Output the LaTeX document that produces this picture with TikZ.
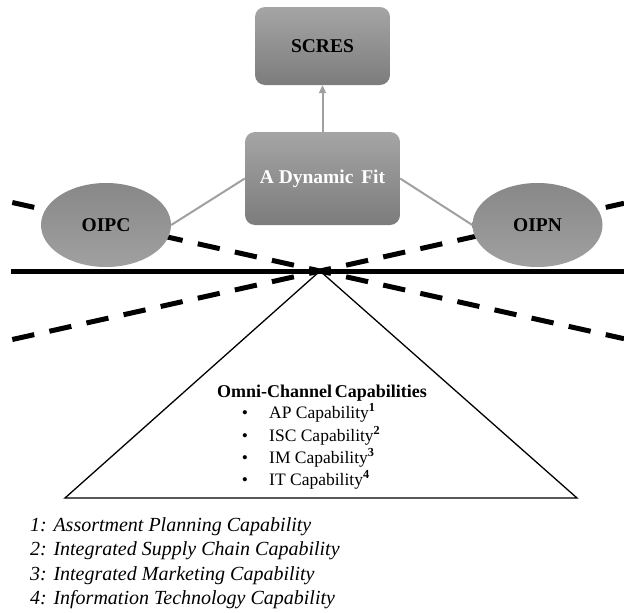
\documentclass[tikz,border=0pt]{standalone}
\usepackage{fontspec}
\setmainfont{Liberation Serif}
\usetikzlibrary{shapes.geometric,arrows.meta}
\definecolor{boxtop}{RGB}{165,165,165}
\definecolor{boxbot}{RGB}{124,124,124}
\definecolor{elltop}{RGB}{136,136,136}
\definecolor{ellbot}{RGB}{160,160,160}
\definecolor{connc}{RGB}{160,160,160}
\pgfdeclarelayer{background}
\pgfsetlayers{background,main}
\begin{document}
\begin{tikzpicture}[x=1pt,y=-1pt,
  gbox/.style={rectangle, rounded corners=10pt, top color=boxtop, bottom color=boxbot,
    draw=none, inner sep=0pt, font=\fontsize{19.5}{23}\selectfont\bfseries},
  goval/.style={ellipse, top color=elltop, bottom color=ellbot, draw=none,
    minimum width=130pt, minimum height=84pt, inner sep=0pt,
    font=\fontsize{19.5}{23}\selectfont\bfseries},
  dline/.style={line width=5pt, dash pattern=on 22.5pt off 15.5pt, dash phase=11.25pt},
  connl/.style={draw=connc, line width=2pt},
  capline/.style={anchor=base west, inner sep=0pt, font=\fontsize{17.5}{21}\selectfont},
  bul/.style={anchor=base, inner sep=0pt, font=\fontsize{17.5}{21}\selectfont},
  foot/.style={anchor=base west, inner sep=0pt, font=\fontsize{20}{24}\selectfont\itshape}]
\useasboundingbox (0,0) rectangle (624,613);

% nodes
\node[gbox, minimum width=135pt, minimum height=78pt] (scres) at (322.5,46) {SCRES};
\node[gbox, minimum width=155pt, minimum height=93pt, text=white] (fit) at (322.5,178.5) {A Dynamic\hspace{0.4em}Fit};
\node[goval] (oipc) at (106,225) {OIPC};
\node[goval] (oipn) at (537.5,225) {OIPN};

% geometry
\coordinate (X) at (320,271);
\coordinate (hl) at (11,271);
\coordinate (hr) at (624,271);
\coordinate (dul) at (11,202.2);
\coordinate (ddr) at (624,338.7);
\coordinate (ddl) at (11,339.8);
\coordinate (dur) at (624,203.3);
\coordinate (bl) at (65,498);
\coordinate (br) at (577,498);

\begin{pgfonlayer}{background}
  \draw[dline] (X) -- (dul);
  \draw[dline] (X) -- (ddr);
  \draw[dline] (X) -- (ddl);
  \draw[dline] (X) -- (dur);
  \draw[line width=5pt] (hl) -- (hr);
  \draw[line width=1.3pt, line join=miter] (X) -- (bl) -- (br) -- cycle;
\end{pgfonlayer}

% connectors
\draw[connl, -{Triangle[length=8pt,width=7pt]}] (fit.north) -- (scres.south);
\draw[connl] (fit.west) -- (oipc.east);
\draw[connl] (fit.east) -- (oipn.west);

% triangle text
\node[anchor=base, inner sep=0pt, font=\fontsize{18}{21}\selectfont\bfseries] (cap) at (322,397) {Omni-Channel\hspace{0.15em}Capabilities};
\node[bul] (b1) at (245,418) {\textbullet};
\node[bul] (b2) at (245,441) {\textbullet};
\node[bul] (b3) at (245,463) {\textbullet};
\node[bul] (b4) at (245,485) {\textbullet};
\node[capline] (c1) at (269,418) {AP Capability\textsuperscript{\textbf{1}}};
\node[capline] (c2) at (269,441) {ISC Capability\textsuperscript{\textbf{2}}};
\node[capline] (c3) at (269,463) {IM Capability\textsuperscript{\textbf{3}}};
\node[capline] (c4) at (269,485) {IT Capability\textsuperscript{\textbf{4}}};

% footnotes
\node[foot] (f1) at (30,531) {1: Assortment Planning Capability};
\node[foot] (f2) at (30,555.5) {2: Integrated Supply Chain Capability};
\node[foot] (f3) at (30,580) {3: Integrated Marketing Capability};
\node[foot] (f4) at (30,604.5) {4: Information Technology Capability};
\end{tikzpicture}
\end{document}
